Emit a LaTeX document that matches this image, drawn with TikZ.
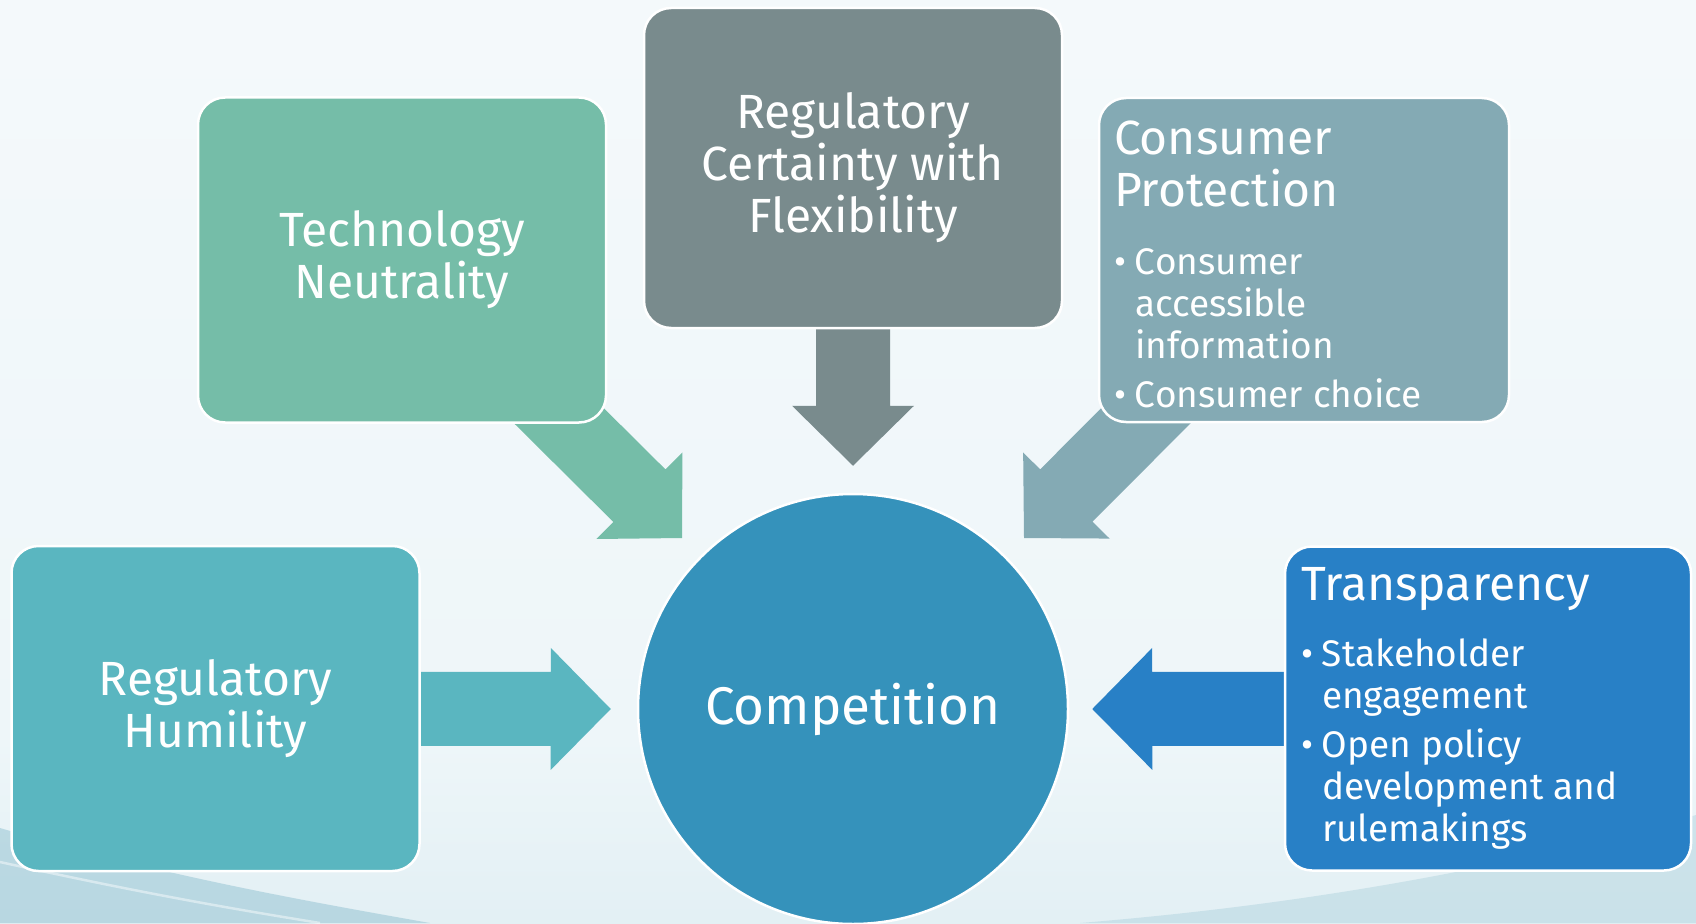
\documentclass[tikz,border=0pt]{standalone}
\usepackage{fontspec}
\setmainfont{Fira Sans}
\usetikzlibrary{calc}
\pgfdeclarelayer{bg}
\pgfdeclarelayer{back}
\pgfsetlayers{bg,back,main}

\definecolor{techgreen}{HTML}{75BDA8}
\definecolor{certgray}{HTML}{798B8D}
\definecolor{consgray}{HTML}{84AAB4}
\definecolor{humteal}{HTML}{5AB6C0}
\definecolor{transblue}{HTML}{2880C6}
\definecolor{compblue}{HTML}{3592BB}
\definecolor{bgtop}{HTML}{F8FBFC}
\definecolor{bgmid}{HTML}{EEF6F9}
\definecolor{bgbot}{HTML}{C6E0E8}
\definecolor{swoosh}{HTML}{8FC0D0}

\pgfdeclareverticalshading{slidebg}{100bp}{color(0bp)=(bgbot); color(35bp)=(bgmid); color(100bp)=(bgtop)}

\newcommand*{\titlefont}{\fontsize{48}{52}\selectfont}
\newcommand*{\itemfont}{\fontsize{37}{42}\selectfont\spaceskip=0pt\xspaceskip=0pt}
\newcommand*{\bitem}[1]{\par\vspace{7pt}\hangindent=21pt\hangafter=1\noindent\makebox[21pt][l]{\textbullet}#1}

% block arrow from #1 (tail) to #2 (tip)
\newcommand*{\blockarrow}[3]{%
\coordinate (#2-h) at ($(#2)!60pt!(#1)$);
\fill[#3] ($(#1)!37pt!90:(#2)$) -- ($(#2-h)!37pt!-90:(#1)$) -- ($(#2-h)!61pt!-90:(#1)$)
  -- (#2) -- ($(#2-h)!61pt!90:(#1)$) -- ($(#2-h)!37pt!90:(#1)$) -- ($(#1)!37pt!-90:(#2)$) -- cycle;}

\tikzset{
  box/.style={rectangle, rounded corners=27pt, draw=white, line width=2.5pt, text=white,
    minimum width=408pt, minimum height=325pt, inner sep=0pt, font=\titlefont},
  comp/.style={circle, draw=white, line width=2.5pt, fill=compblue, text=white,
    minimum size=430pt, inner sep=0pt, font=\fontsize{53}{58}\selectfont}
}

\begin{document}
\begin{tikzpicture}[x=1pt, y=-1pt]

\useasboundingbox (0,0) rectangle (1696,923);

% slide background
\begin{pgfonlayer}{bg}
\shade[shading=slidebg] (0,0) rectangle (1696,923);
\fill[swoosh, opacity=0.5] (0,828) .. controls (160,875) and (300,900) .. (430,923) -- (0,923) -- cycle;
\draw[white, opacity=0.45, line width=2.5pt] (0,862) .. controls (150,895) and (240,910) .. (320,923);
\fill[swoosh, opacity=0.3] (1696,815) .. controls (1500,870) and (1300,905) .. (1080,923) -- (1696,923) -- cycle;
\end{pgfonlayer}

\node[box, fill=techgreen, align=center] (tech) at (402,260) {Technology\\Neutrality};
\node[box, fill=certgray, align=center, minimum width=418pt, minimum height=320pt] (cert) at (853,168) {Regulatory\\Certainty with\\Flexibility};
\node[box, fill=consgray, align=left, text width=380pt, inner xsep=15pt, minimum height=324pt] (cons) at (1304,260)
  {\rule{0pt}{42pt}Consumer\\Protection\par\itemfont\vspace{19pt}%
   \bitem{Consumer\newline accessible\newline information}\bitem{Consumer choice}\par};
\node[box, fill=transblue, align=left, text width=374pt, inner xsep=16pt, minimum width=406pt, minimum height=324pt] (trans) at (1488,708.5)
  {Transparency\par\itemfont\vspace{17pt}%
   \bitem{Stakeholder\newline engagement}\bitem{Open policy\newline development and\newline rulemakings}\par};
\node[box, fill=humteal, align=center] (hum) at (215.5,708.5) {Regulatory\\Humility};
\node[comp] (comp) at (853,709) {Competition};

\coordinate (techtail) at ($(tech.south east)+(-76,-35.5)$);
\coordinate (techtip) at ($(comp.center)+(-171,-171)$);
\coordinate (certtail) at ($(cert.south)+(0,-30)$);
\coordinate (certtip) at ($(comp.north)+(0,-27)$);
\coordinate (constail) at ($(cons.south west)+(76,-35.5)$);
\coordinate (constip) at ($(comp.center)+(171,-171)$);
\coordinate (humtip) at ($(comp.west)+(-26,0)$);
\coordinate (transtip) at ($(comp.east)+(23,0)$);

\begin{pgfonlayer}{back}
\blockarrow{techtail}{techtip}{techgreen}
\blockarrow{certtail}{certtip}{certgray}
\blockarrow{constail}{constip}{consgray}
\blockarrow{hum.center}{humtip}{humteal}
\blockarrow{trans.center}{transtip}{transblue}
\end{pgfonlayer}

\end{tikzpicture}
\end{document}
